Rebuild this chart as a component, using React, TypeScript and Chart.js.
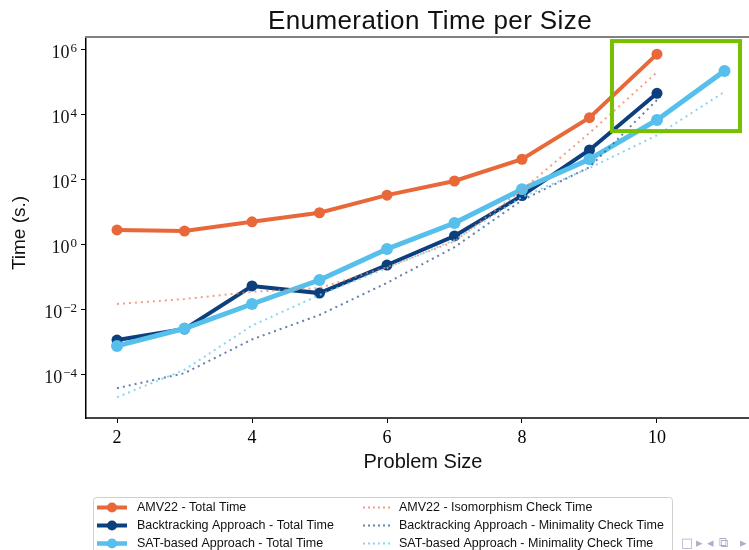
import React, { useEffect, useRef } from "react";
import { Chart, registerables } from "chart.js";

Chart.register(...registerables);

// ---- data ----
const sizes = [2, 3, 4, 5, 6, 7, 8, 9, 10];
const sizesSat = [2, 3, 4, 5, 6, 7, 8, 9, 10, 11];

const amvTotal = [2.8, 2.6, 5.0, 9.5, 33, 90, 420, 8000, 7.2e5];
const btTotal = [1.15e-3, 2.5e-3, 0.053, 0.032, 0.234, 1.83, 32, 810, 4.5e4];
const satTotal = [7.6e-4, 2.6e-3, 0.0148, 0.081, 0.73, 4.6, 50, 420, 6800, 2.2e5];

const amvIso = [0.0148, 0.021, 0.035, 0.046, 0.2, 1.25, 47, 2700, 2.0e5];
const btMin = [3.8e-5, 1.1e-4, 1.2e-3, 6.8e-3, 0.066, 0.83, 23, 240, 2.8e4];
const satMin = [2.0e-5, 1.4e-4, 3.2e-3, 0.028, 0.19, 1.37, 29, 225, 2300, 5.0e4];

const xTicks = [2, 4, 6, 8, 10];
const yTickExponents = [-4, -2, 0, 2, 4, 6];

const TITLE = "Enumeration Time per Size";
const X_TITLE = "Problem Size";
const Y_TITLE = "Time (s.)";

const labelsCol1 = [
  "AMV22 - Total Time",
  "Backtracking Approach - Total Time",
  "SAT-based Approach - Total Time",
];
const labelsCol2 = [
  "AMV22 - Isomorphism Check Time",
  "Backtracking Approach - Minimality Check Time",
  "SAT-based Approach - Minimality Check Time",
];

// highlighted region (data coordinates)
const highlightX = [9.333, 11.23];
const highlightY = [Math.pow(10, 3.49), Math.pow(10, 6.26)];

// ---- styles ----
const ORANGE = "#E8683A";
const NAVY = "#0B3F7D";
const LIGHT = "#56BFEC";
const ORANGE_DOT = "rgba(236,130,95,0.75)";
const NAVY_DOT = "rgba(50,85,140,0.75)";
const LIGHT_DOT = "rgba(120,205,242,0.85)";
const GREEN = "#77C000";

const X_MIN = 1.5407;
const X_MAX = 11.363;
const Y_MIN = Math.pow(10, -5.338);
const Y_MAX = Math.pow(10, 6.385);

const SANS = "'Liberation Sans', Arial, sans-serif";
const SERIF = "'Liberation Serif', 'Times New Roman', serif";

const toPts = (xs: number[], ys: number[]) => xs.map((x, i) => ({ x, y: ys[i] }));

const solid = (label: string, xs: number[], ys: number[], color: string, width: number, radius: number, order: number) => ({
  label,
  data: toPts(xs, ys),
  borderColor: color,
  backgroundColor: color,
  borderWidth: width,
  pointRadius: radius,
  pointBackgroundColor: color,
  pointBorderColor: color,
  pointBorderWidth: 0,
  tension: 0,
  order,
});

const dotted = (label: string, xs: number[], ys: number[], color: string, order: number) => ({
  label,
  data: toPts(xs, ys),
  borderColor: color,
  backgroundColor: color,
  borderWidth: 2,
  borderDash: [2, 4],
  pointRadius: 0,
  tension: 0,
  order,
});

const decorPlugin = {
  id: "decor",
  afterDraw(chart: any) {
    const ctx = chart.ctx as CanvasRenderingContext2D;
    const { left, right, top } = chart.chartArea;
    const xs = chart.scales.x;
    const ys = chart.scales.y;
    ctx.save();

    // top spine
    ctx.strokeStyle = "#808080";
    ctx.lineWidth = 2;
    ctx.beginPath();
    ctx.moveTo(left - 1, top);
    ctx.lineTo(right, top);
    ctx.stroke();

    // highlight box
    const bx1 = xs.getPixelForValue(highlightX[0]);
    const bx2 = xs.getPixelForValue(highlightX[1]);
    const by1 = ys.getPixelForValue(highlightY[1]);
    const by2 = ys.getPixelForValue(highlightY[0]);
    ctx.strokeStyle = GREEN;
    ctx.lineWidth = 4;
    ctx.strokeRect(bx1, by1, bx2 - bx1, by2 - by1);

    // title
    ctx.fillStyle = "#111";
    ctx.font = `26px ${SANS}`;
    (ctx as any).letterSpacing = "0.4px";
    ctx.textAlign = "center";
    ctx.textBaseline = "alphabetic";
    ctx.fillText(TITLE, 430, 29);
    (ctx as any).letterSpacing = "0px";

    // x title
    ctx.font = `20px ${SANS}`;
    ctx.fillText(X_TITLE, 423, 468);

    // y title
    ctx.save();
    ctx.translate(25, 233);
    ctx.rotate(-Math.PI / 2);
    ctx.font = `19px ${SANS}`;
    ctx.textBaseline = "alphabetic";
    ctx.fillText(Y_TITLE, 0, 0);
    ctx.restore();

    // y tick labels (10^e)
    ctx.textAlign = "left";
    ctx.textBaseline = "alphabetic";
    for (const e of yTickExponents) {
      const y = ys.getPixelForValue(Math.pow(10, e));
      const base = "10";
      const sup = e < 0 ? "\u2212" + Math.abs(e) : String(e);
      ctx.font = `18px ${SERIF}`;
      const wb = ctx.measureText(base).width;
      ctx.font = `13px ${SERIF}`;
      const ws = ctx.measureText(sup).width;
      const rightEdge = 77;
      const x0 = rightEdge - ws - wb - 1;
      ctx.font = `18px ${SERIF}`;
      ctx.fillText(base, x0, y + 8.5);
      ctx.font = `13px ${SERIF}`;
      ctx.fillText(sup, x0 + wb + 1, y + 2);
    }

    // legend
    const lx = 93, ly = 497, lw = 579, lh = 70;
    ctx.fillStyle = "rgba(255,255,255,0.9)";
    ctx.strokeStyle = "#cfcfcf";
    ctx.lineWidth = 1;
    ctx.beginPath();
    (ctx as any).roundRect(lx + 0.5, ly + 0.5, lw, lh, 3);
    ctx.fill();
    ctx.stroke();

    const rowsY = [507.5, 525.5, 543.5];
    const col1Colors = [ORANGE, NAVY, LIGHT];
    const col1Widths = [4, 4, 4.5];
    const col2Colors = [ORANGE_DOT, NAVY_DOT, LIGHT_DOT];
    ctx.font = `12.5px ${SANS}`;
    ctx.textBaseline = "middle";
    ctx.textAlign = "left";
    for (let i = 0; i < 3; i++) {
      const y = rowsY[i];
      ctx.strokeStyle = col1Colors[i];
      ctx.lineWidth = col1Widths[i];
      ctx.setLineDash([]);
      ctx.beginPath();
      ctx.moveTo(97, y);
      ctx.lineTo(127, y);
      ctx.stroke();
      ctx.fillStyle = col1Colors[i];
      ctx.beginPath();
      ctx.arc(112, y, 5, 0, Math.PI * 2);
      ctx.fill();
      ctx.fillStyle = "#111";
      ctx.fillText(labelsCol1[i], 137, y + 0.5);

      ctx.strokeStyle = col2Colors[i];
      ctx.lineWidth = 2;
      ctx.setLineDash([2, 3]);
      ctx.beginPath();
      ctx.moveTo(363, y);
      ctx.lineTo(391, y);
      ctx.stroke();
      ctx.setLineDash([]);
      ctx.fillStyle = "#111";
      ctx.fillText(labelsCol2[i], 399, y + 0.5);
    }

    // navigation symbols
    ctx.fillStyle = "#aab0cc";
    ctx.font = `13px 'DejaVu Sans', sans-serif`;
    ctx.textBaseline = "middle";
    const nav = ["\u25A1", "\u25B8", "\u25C2", "\u29C9", "\u25B8"];
    const navX = [681, 696, 707, 719, 740];
    nav.forEach((g, i) => ctx.fillText(g, navX[i], 544));

    ctx.restore();
  },
};

export default function App() {
  const ref = useRef<HTMLCanvasElement | null>(null);

  useEffect(() => {
    if (!ref.current) return;
    document.body.style.margin = "0";
    const chart = new Chart(ref.current, {
      type: "line",
      data: {
        datasets: [
          solid(labelsCol1[0], sizes, amvTotal, ORANGE, 4, 5.5, 6),
          solid(labelsCol1[1], sizes, btTotal, NAVY, 4, 5.5, 5),
          solid(labelsCol1[2], sizesSat, satTotal, LIGHT, 5, 6, 4),
          dotted(labelsCol2[0], sizes, amvIso, ORANGE_DOT, 3),
          dotted(labelsCol2[1], sizes, btMin, NAVY_DOT, 2),
          dotted(labelsCol2[2], sizesSat, satMin, LIGHT_DOT, 1),
        ] as any,
      },
      options: {
        responsive: false,
        animation: false,
        events: [],
        layout: { autoPadding: false, padding: { top: 37, left: 0, right: 0, bottom: 0 } },
        plugins: {
          legend: { display: false },
          tooltip: { enabled: false },
          title: { display: false },
        },
        scales: {
          x: {
            type: "linear",
            min: X_MIN,
            max: X_MAX,
            bounds: "data",
            afterBuildTicks: (s: any) => {
              s.ticks = xTicks.map((v) => ({ value: v }));
            },
            afterFit: (s: any) => {
              s.height = 132;
              s.paddingLeft = 0;
              s.paddingRight = 0;
            },
            grid: { drawOnChartArea: false, drawTicks: true, tickLength: 5, color: "#000", lineWidth: 1 },
            border: { display: true, color: "#444", width: 2 },
            ticks: {
              font: { family: SERIF, size: 18 },
              color: "#000",
              padding: 4,
              maxRotation: 0,
              autoSkip: false,
              callback: (v: any) => String(v),
            },
          },
          y: {
            type: "logarithmic",
            min: Y_MIN,
            max: Y_MAX,
            bounds: "data",
            afterBuildTicks: (s: any) => {
              s.ticks = yTickExponents.map((e) => ({ value: Math.pow(10, e) }));
            },
            afterFit: (s: any) => {
              s.width = 86;
              s.paddingTop = 0;
              s.paddingBottom = 0;
            },
            grid: { drawOnChartArea: false, drawTicks: true, tickLength: 5, color: "#000", lineWidth: 1 },
            border: { display: true, color: "#000", width: 1.5 },
            ticks: { display: false },
          },
        },
      } as any,
      plugins: [decorPlugin],
    });
    return () => chart.destroy();
  }, []);

  return (
    <div style={{ position: "fixed", left: 0, top: 0, width: 749, height: 550, overflow: "hidden", background: "#fff" }}>
      <canvas ref={ref} width={749} height={550} style={{ display: "block" }} />
    </div>
  );
}
